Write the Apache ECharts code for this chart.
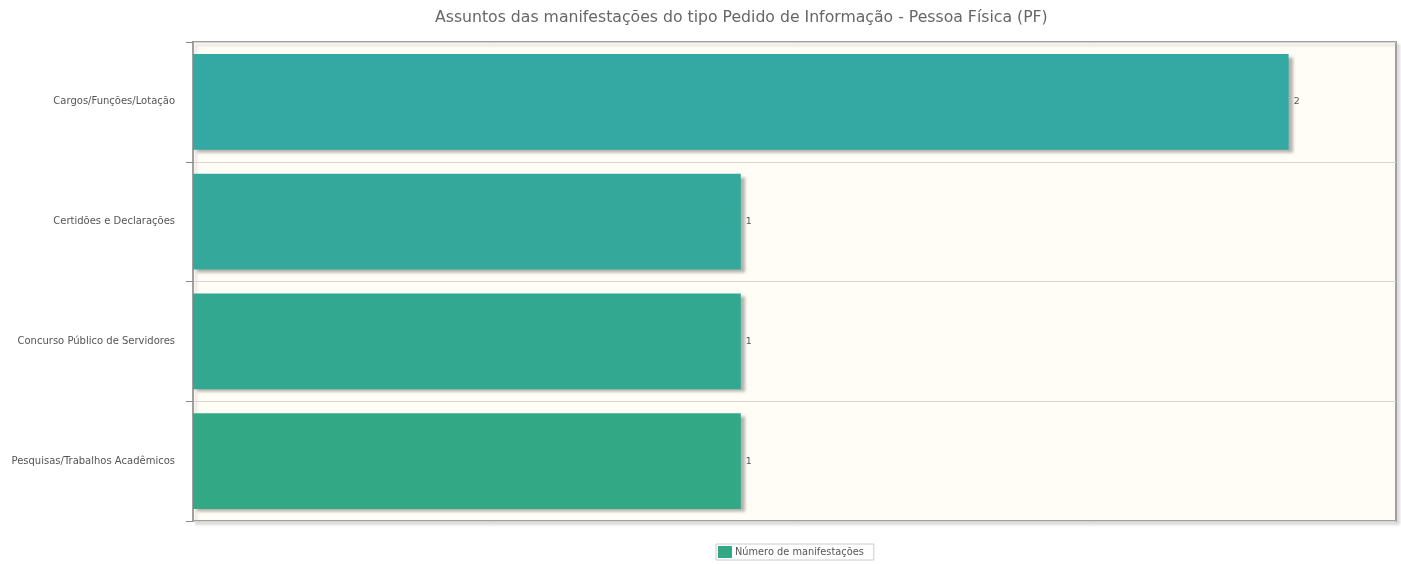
<!DOCTYPE html>
<html>
<head>
<meta charset="utf-8">
<script src="https://cdn.jsdelivr.net/npm/echarts@6/dist/echarts.min.js"></script>
<style>
html,body{margin:0;padding:0;background:#fff;}
#chart{width:1401px;height:564px;}
</style>
</head>
<body>
<div id="chart"></div>
<script>
const title = 'Assuntos das manifestações do tipo Pedido de Informação - Pessoa Física (PF)';
const seriesName = 'Número de manifestações';
const categories = ['Cargos/Funções/Lotação', 'Certidões e Declarações', 'Concurso Público de Servidores', 'Pesquisas/Trabalhos Acadêmicos'];
const values = [2, 1, 1, 1];
const barColors = ['#34a8a2', '#34a99b', '#33a890', '#33a884'];

const chart = echarts.init(document.getElementById('chart'));
chart.setOption({
  animation: false,
  title: {
    text: title,
    left: 430,
    top: 5,
    textStyle: {fontFamily: 'DejaVu Sans', fontSize: 15.7, fontWeight: 'normal', color: '#666'}
  },
  legend: {
    top: 544,
    left: 716,
    data: [seriesName],
    icon: 'rect',
    itemWidth: 14,
    itemHeight: 12,
    itemGap: 4,
    padding: [2, 10, 2, 2],
    borderColor: '#ccc',
    borderWidth: 1,
    borderRadius: 0,
    textStyle: {fontFamily: 'DejaVu Sans', fontSize: 9.8, color: '#555', padding: [0, 0, 0, -2]},
    itemStyle: {color: '#33a884'}
  },
  grid: {
    left: 193, right: 5, top: 42, bottom: 43,
    show: true,
    backgroundColor: '#fffdf6',
    borderColor: '#a0a0a0',
    borderWidth: 2,
    shadowColor: 'rgba(0,0,0,0.12)',
    shadowBlur: 3,
    shadowOffsetX: 3,
    shadowOffsetY: 3
  },
  xAxis: {
    type: 'value',
    min: 0, max: 2.196,
    show: false
  },
  yAxis: {
    type: 'category',
    data: categories,
    inverse: true,
    axisLine: {show: true, lineStyle: {color: '#a0a0a0', width: 2}},
    axisTick: {show: true, length: 7, lineStyle: {color: '#888'}},
    axisLabel: {fontFamily: 'DejaVu Sans', fontSize: 10, color: '#555', margin: 18},
    splitLine: {show: true, lineStyle: {color: '#d4d4d4', width: 1}}
  },
  series: [{
    name: seriesName,
    type: 'bar',
    data: values.map((v, i) => ({value: v, itemStyle: {color: barColors[i]}})),
    barCategoryGap: '20%',
    itemStyle: {
      shadowColor: 'rgba(0,0,0,0.3)',
      shadowBlur: 3,
      shadowOffsetX: 4,
      shadowOffsetY: 3
    },
    label: {
      show: true,
      position: 'right',
      distance: 5,
      fontFamily: 'DejaVu Sans',
      fontSize: 9.5,
      color: '#555'
    }
  }]
});
</script>
</body>
</html>
